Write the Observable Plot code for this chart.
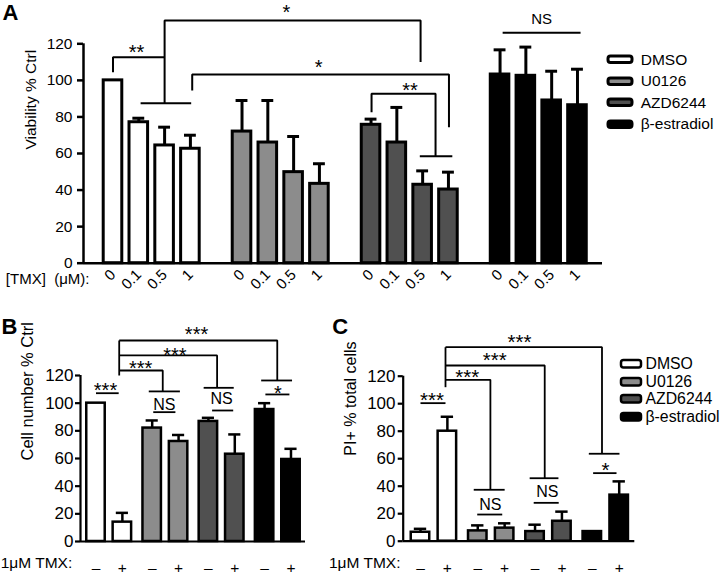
<!DOCTYPE html>
<html><head><meta charset="utf-8">
<script src="https://cdn.jsdelivr.net/npm/d3@7"></script>
<script src="https://cdn.jsdelivr.net/npm/@observablehq/plot@0.6"></script>
<style>
html,body{margin:0;padding:0;background:#fff;overflow:hidden;}
#fig{position:relative;width:720px;height:575px;overflow:hidden;background:#fff;}
#fig > svg{position:absolute;}
.leg{position:absolute;white-space:nowrap;}
.lega-swatch{height:21.5px;padding-bottom:0 !important;}
.lega-swatch > svg{margin-right:8.5px !important;}
.lega-swatch rect{stroke:#000;stroke-width:3px;rx:2.5px;}
.legc-swatch{height:17.6px;padding-bottom:0 !important;}
.legc-swatch > svg{margin-right:5px !important;}
.legc-swatch rect{stroke:#000;stroke-width:2.5px;rx:2.5px;}
.lega-swatch-label,.legc-swatch-label{overflow:visible !important;}
</style>
</head><body>
<div id="fig"></div>
<script>
// ---------- shared categories ----------
const groups = ["DMSO", "U0126", "AZD6244", "β-estradiol"];
const groupColors = ["#ffffff", "#8c8c8c", "#505050", "#000000"];

// ---------- panel A : viability (% Ctrl) by [TMX] dose ----------
const doses = ["0", "0.1", "0.5", "1"];
const viabDMSO = [100, 77.1, 64.4, 62.6];
const viabU0126 = [72, 66, 49.8, 43.4];
const viabAZD = [75.7, 66, 42.9, 40.3];
const viabEstr = [103.2, 102.5, 89, 86.4];
const viabErrDMSO = [0, 2.2, 10, 7.4];
const viabErrU0126 = [17, 23, 19.5, 11];
const viabErrAZD = [3.1, 19.2, 7.6, 9.5];
const viabErrEstr = [13.5, 15.7, 16, 19.7];

// ---------- panel B : cell number (% Ctrl) ----------
const tmxLabels = ["–", "+"];
const cellDMSO = [100, 14];
const cellU0126 = [82, 72.3];
const cellAZD = [86.8, 63.1];
const cellEstr = [95.4, 59.3];
const cellErrDMSO = [0, 6.7];
const cellErrU0126 = [5.5, 4.7];
const cellErrAZD = [2.6, 14.3];
const cellErrEstr = [4.6, 7.7];

// ---------- panel C : PI+ % total cells ----------
const piDMSO = [6.5, 80];
const piU0126 = [7.5, 9.5];
const piAZD = [7, 14.5];
const piEstr = [7, 33.5];
const piErrDMSO = [2.5, 10.5];
const piErrU0126 = [4, 3.5];
const piErrAZD = [5, 7];
const piErrEstr = [0, 10];

// ---------- significance annotations (data units: slot, value) ----------
const bracketsA = [
  ["a1", [[0, 104.5], [0, 112.7], [2.0, 112.7]]],
  ["a2", [[1.07, 87.5], [3.03, 87.5]]],
  ["a3", [[2.0, 87.5], [2.0, 132.8], [11.92, 132.8], [11.92, 110]]],
  ["a4", [[3.07, 94.5], [3.07, 103.2], [13.02, 103.2], [13.02, 74.4]]],
  ["a5", [[10.02, 82.6], [10.02, 92.7], [12.5, 92.7], [12.5, 58.5]]],
  ["a6", [[11.89, 58.5], [13.15, 58.5]]],
  ["a7", [[15.1, 126], [18.12, 126]]]
];
const starsA = [["**", 0.91, 111.7], ["*", 6.72, 133.3], ["*", 7.97, 103.7], ["**", 11.51, 90.9]];
const nsA = [["NS", 16.61, 131]];

const bracketsB = [
  ["b1", [[0, 107.2], [0.86, 107.2]]],
  ["b2", [[0.88, 120], [0.88, 145.3]]],
  ["b3", [[0.88, 123.6], [2.53, 123.6], [2.53, 108.5]]],
  ["b4", [[2.0, 108.5], [3.18, 108.5]]],
  ["b5", [[2.17, 93.5], [3.01, 93.5]]],
  ["b6", [[0.88, 134.5], [4.59, 134.5], [4.59, 111.1]]],
  ["b7", [[4.08, 111.1], [5.22, 111.1]]],
  ["b8", [[4.40, 94.7], [5.2, 94.7]]],
  ["b9", [[0.88, 145.3], [6.87, 145.3], [6.87, 116.4]]],
  ["b10", [[6.26, 116.4], [7.43, 116.4]]],
  ["b11", [[6.42, 106.3], [7.33, 106.3]]]
];
const starsB = [["***", 0.36, 104.5], ["***", 3.81, 145], ["***", 2.99, 129.8], ["***", 1.69, 120.6], ["*", 6.89, 102.1]];
const nsB = [["NS", 2.59, 94.7], ["NS", 4.76, 99.1]];

const bracketsC = [
  ["c1", [[0, 100.4], [0.93, 100.4]]],
  ["c2", [[0.93, 112], [0.93, 141.1]]],
  ["c3", [[0.93, 117.4], [2.6, 117.4], [2.6, 37.4]]],
  ["c4", [[1.98, 37.4], [3.13, 37.4]]],
  ["c5", [[2.11, 19.4], [3.04, 19.4]]],
  ["c6", [[0.93, 127.8], [4.62, 127.8], [4.62, 45.8]]],
  ["c7", [[4.06, 45.8], [5.13, 45.8]]],
  ["c8", [[4.21, 27.9], [5.14, 27.9]]],
  ["c9", [[0.93, 141.1], [6.75, 141.1], [6.75, 63.6]]],
  ["c10", [[6.26, 63.6], [7.40, 63.6]]],
  ["c11", [[6.42, 49.5], [7.29, 49.5]]]
];
const starsC = [["***", 0.43, 97.6], ["***", 3.68, 140], ["***", 2.76, 126.7], ["***", 1.74, 114.5], ["*", 6.88, 46.7]];
const nsC = [["NS", 2.6, 22.8], ["NS", 4.72, 32]];

const yTicks = [0, 20, 40, 60, 80, 100, 120];

// ---------- build tables ----------
const font = '"Liberation Sans", Arial, Helvetica, sans-serif';
const viabMeans = [viabDMSO, viabU0126, viabAZD, viabEstr];
const viabErrs = [viabErrDMSO, viabErrU0126, viabErrAZD, viabErrEstr];
const rowsA = groups.flatMap((g, gi) => doses.map((d, di) => ({
  group: g, label: d, slot: gi * 5 + di, value: viabMeans[gi][di], err: viabErrs[gi][di]
})));
function pairRows(means, errs) {
  return groups.flatMap((g, gi) => tmxLabels.map((t, ti) => ({
    group: g, label: t, slot: +(gi * 2.13 + ti).toFixed(2), value: means[gi][ti], err: errs[gi][ti]
  })));
}
const rowsB = pairRows([cellDMSO, cellU0126, cellAZD, cellEstr], [cellErrDMSO, cellErrU0126, cellErrAZD, cellErrEstr]);
const rowsC = pairRows([piDMSO, piU0126, piAZD, piEstr], [piErrDMSO, piErrU0126, piErrAZD, piErrEstr]);
const flat = (br) => br.flatMap(([id, pts]) => pts.map(([x, y]) => ({id, x, y})));
const txt = (arr) => arr.map(([t, x, y]) => ({t, x, y}));

function panel(cfg) {
  const rows = cfg.rows;
  const withErr = rows.filter(d => d.err > 0);
  const labelBySlot = new Map(rows.map(d => [d.slot, d.label]));
  const marks = [
    Plot.rect(rows, {x1: d => d.slot - cfg.hw, x2: d => d.slot + cfg.hw, y1: 0, y2: "value", fill: "group", stroke: "#000", strokeWidth: cfg.barSW}),
    Plot.ruleX(withErr, {x: "slot", y1: "value", y2: d => d.value + d.err, stroke: "#000", strokeWidth: cfg.errSW}),
    Plot.ruleY(withErr, {y: d => d.value + d.err, x1: d => d.slot - cfg.cap, x2: d => d.slot + cfg.cap, stroke: "#000", strokeWidth: cfg.errSW}),
    Plot.ruleY([0], {stroke: "#000", strokeWidth: cfg.axSW}),
    Plot.ruleX([cfg.xdom[0]], {y1: 0, y2: 120, stroke: "#000", strokeWidth: cfg.axSW}),
    Plot.axisY({ticks: yTicks, tickSize: cfg.tickSize, tickPadding: cfg.tickPad, strokeWidth: cfg.axSW, label: null, fontSize: cfg.tickFont}),
    Plot.axisX({ticks: rows.map(d => d.slot), tickFormat: d => labelBySlot.get(d), tickSize: 0, tickPadding: cfg.xPad, tickRotate: cfg.xRot, label: null, fontSize: cfg.xFont}),
    Plot.line(flat(cfg.brackets), {x: "x", y: "y", z: "id", stroke: "#000", strokeWidth: cfg.brSW, strokeLinejoin: "miter", strokeLinecap: "butt"}),
    Plot.text(txt(cfg.stars), {x: "x", y: "y", text: "t", lineAnchor: "bottom", fontSize: cfg.starFont}),
    Plot.text(txt(cfg.ns), {x: "x", y: "y", text: "t", lineAnchor: "bottom", fontSize: cfg.nsFont}),
    Plot.text([cfg.xTitle], {text: d => d, frameAnchor: "bottom-left", textAnchor: "end", dx: cfg.xTitleDx, dy: cfg.xTitleDy, fontSize: cfg.xTitleFont}),
    Plot.text([cfg.yTitle], {text: d => d, frameAnchor: "left", rotate: -90, dx: cfg.yTitleDx, dy: cfg.yTitleDy, fontSize: cfg.yTitleFont}),
    Plot.text([cfg.letter], {text: d => d, frameAnchor: "top-left", textAnchor: "start", lineAnchor: "bottom", dx: cfg.letterDx, dy: cfg.letterDy, fontSize: cfg.letterFont, fontWeight: "bold"})
  ];
  const svg = Plot.plot({
    width: cfg.width, height: cfg.height,
    marginLeft: cfg.ml, marginRight: cfg.mr, marginTop: cfg.mt, marginBottom: cfg.mb,
    style: {fontFamily: font, color: "#000", background: "transparent", overflow: "visible"},
    x: {domain: cfg.xdom, label: null},
    y: {domain: [0, 120], label: null},
    color: {domain: groups, range: groupColors},
    marks
  });
  svg.style.left = cfg.left + "px";
  svg.style.top = cfg.top + "px";
  return svg;
}

const fig = document.getElementById("fig");

fig.appendChild(panel({
  rows: rowsA, left: 0, top: 0, width: 720, height: 300,
  ml: 83, mr: 118, mt: 43.3, mb: 37.3, xdom: [-1.143, 18.97],
  hw: 0.36, cap: 0.23, barSW: 3, errSW: 3, axSW: 2.5, brSW: 2,
  tickSize: 6, tickPad: 5, tickFont: 15.5,
  xPad: 9, xRot: -45, xFont: 15,
  brackets: bracketsA, stars: starsA, ns: nsA, starFont: 20, nsFont: 15,
  xTitle: "[TMX]\u00a0 (μM):", xTitleDx: 6, xTitleDy: 21, xTitleFont: 15,
  yTitle: "Viability % Ctrl", yTitleDx: -52, yTitleDy: -4, yTitleFont: 15.5,
  letter: "A", letterDx: -81, letterDy: -23.8, letterFont: 22
}));

fig.appendChild(panel({
  rows: rowsB, left: 0, top: 300, width: 320, height: 275,
  ml: 80, mr: 15, mt: 75, mb: 34, xdom: [-0.587, 7.94],
  hw: 0.35, cap: 0.23, barSW: 2.5, errSW: 2.5, axSW: 2.2, brSW: 1.8,
  tickSize: 5, tickPad: 2, tickFont: 17,
  xPad: 20.5, xRot: 0, xFont: 15.5,
  brackets: bracketsB, stars: starsB, ns: nsB, starFont: 20, nsFont: 16,
  xTitle: "1μM TMX:", xTitleDx: -8.3, xTitleDy: 26, xTitleFont: 15.5,
  yTitle: "Cell number % Ctrl", yTitleDx: -53, yTitleDy: 2, yTitleFont: 16.5,
  letter: "B", letterDx: -79, letterDy: -42, letterFont: 22
}));

fig.appendChild(panel({
  rows: rowsC, left: 320, top: 300, width: 400, height: 275,
  ml: 82.7, mr: 85.7, mt: 75.7, mb: 34.3, xdom: [-0.643, 7.97],
  hw: 0.344, cap: 0.23, barSW: 2.5, errSW: 2.5, axSW: 2.2, brSW: 1.8,
  tickSize: 5, tickPad: 2.7, tickFont: 17,
  xPad: 21, xRot: 0, xFont: 15.5,
  brackets: bracketsC, stars: starsC, ns: nsC, starFont: 20.5, nsFont: 16,
  xTitle: "1μM TMX:", xTitleDx: -2.7, xTitleDy: 26.5, xTitleFont: 15.5,
  yTitle: "PI+ % total cells", yTitleDx: -52.7, yTitleDy: -3, yTitleFont: 16,
  letter: "C", letterDx: -71, letterDy: -42.7, letterFont: 22
}));

// ---------- legends ----------
function legend(cls, left, top, sw, sh, fs) {
  const el = Plot.legend({
    color: {domain: groups, range: groupColors}, legend: "swatches", columns: 1,
    swatchWidth: sw, swatchHeight: sh, className: cls,
    style: {fontFamily: font, fontSize: fs + "px", color: "#000", margin: "0"}
  });
  el.classList.add("leg");
  el.style.left = left + "px";
  el.style.top = top + "px";
  el.style.width = "200px";
  fig.appendChild(el);
}
legend("lega", 608.2, 48.8, 24, 6.5, 15.5);
legend("legc", 620.5, 355.2, 20, 7.5, 15.8);
</script>
</body></html>
